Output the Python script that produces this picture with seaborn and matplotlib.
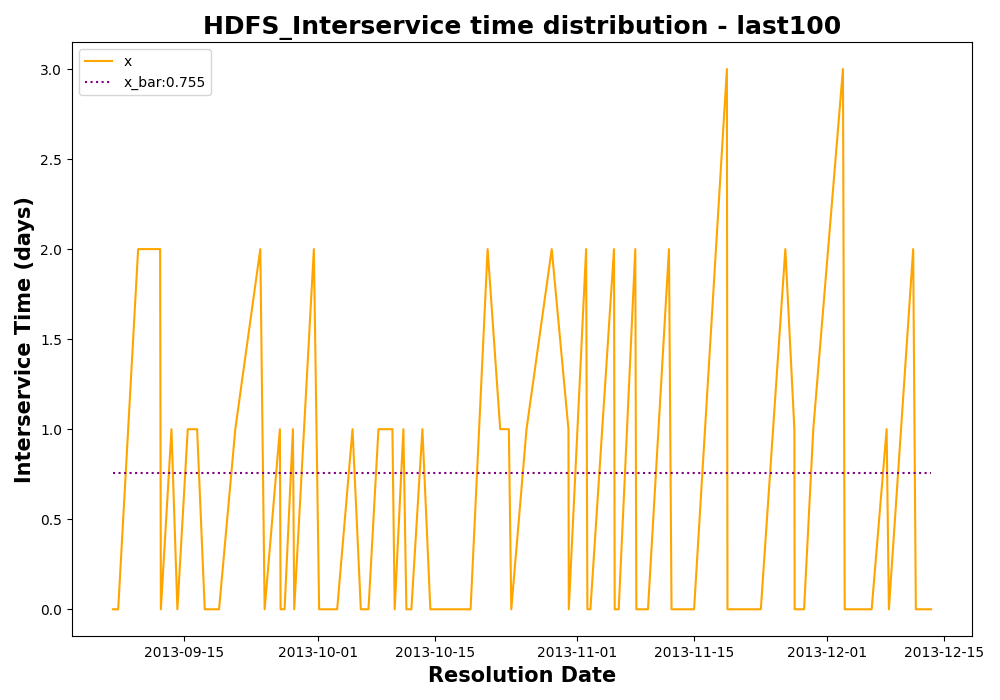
import matplotlib
matplotlib.use("Agg")
import matplotlib.pyplot as plt
import seaborn as sns
import pandas as pd

resolution_dates = [
    "2013-09-06 10:30", "2013-09-07 01:40", "2013-09-09 11:00", "2013-09-12 02:10",
    "2013-09-12 04:20", "2013-09-13 10:50", "2013-09-14 03:50", "2013-09-15 09:40",
    "2013-09-16 12:30", "2013-09-17 10:30", "2013-09-19 03:40", "2013-09-21 02:20",
    "2013-09-24 02:10", "2013-09-24 14:40", "2013-09-26 10:30", "2013-09-26 12:30",
    "2013-09-27 00:00", "2013-09-28 00:00", "2013-09-28 03:40", "2013-09-30 12:10",
    "2013-10-01 03:20", "2013-10-03 07:10", "2013-10-05 03:20", "2013-10-06 03:10",
    "2013-10-07 01:10", "2013-10-08 05:50", "2013-10-09 22:00", "2013-10-10 04:30",
    "2013-10-11 05:30", "2013-10-11 14:10", "2013-10-12 04:30", "2013-10-13 12:10",
    "2013-10-14 11:00", "2013-10-19 06:40", "2013-10-21 07:40", "2013-10-22 19:50",
    "2013-10-23 20:40", "2013-10-24 03:40", "2013-10-25 23:30", "2013-10-29 00:00",
    "2013-10-31 00:00", "2013-10-31 01:00", "2013-11-02 02:50", "2013-11-02 06:30",
    "2013-11-02 15:10", "2013-11-05 11:00", "2013-11-05 13:00", "2013-11-06 00:30",
    "2013-11-08 00:10", "2013-11-08 03:10", "2013-11-09 12:40", "2013-11-12 01:00",
    "2013-11-12 08:20", "2013-11-15 01:10", "2013-11-18 23:30", "2013-11-19 01:10",
    "2013-11-23 01:00", "2013-11-25 23:30", "2013-11-27 01:30", "2013-11-27 02:20",
    "2013-11-28 05:20", "2013-11-29 07:50", "2013-12-02 21:10", "2013-12-03 02:10",
    "2013-12-06 07:40", "2013-12-08 02:40", "2013-12-08 09:10", "2013-12-11 07:00",
    "2013-12-11 14:40", "2013-12-13 10:30",
]
interservice_days = [
    0, 0, 2, 2, 0, 1, 0, 1, 1, 0, 0, 1, 2, 0, 1, 0, 0, 1, 0, 2,
    0, 0, 1, 0, 0, 1, 1, 0, 1, 0, 0, 1, 0, 0, 2, 1, 1, 0, 1, 2,
    1, 0, 2, 0, 0, 2, 0, 0, 2, 0, 0, 2, 0, 0, 3, 0, 0, 2, 1, 0,
    0, 1, 3, 0, 0, 1, 0, 2, 0, 0,
]
x_bar = 0.755

title = "HDFS_Interservice time distribution - last100"
x_label = "Resolution Date"
y_label = "Interservice Time (days)"

df = pd.DataFrame({"date": pd.to_datetime(resolution_dates), "x": interservice_days})
bar_df = pd.DataFrame({"date": [df["date"].iloc[0], df["date"].iloc[-1]], "x_bar": [x_bar, x_bar]})

fig, ax = plt.subplots(figsize=(10, 7), dpi=100)
fig.subplots_adjust(left=0.072, right=0.972, top=0.94, bottom=0.091)

sns.lineplot(data=df, x="date", y="x", color="orange", label="x",
             estimator=None, sort=False, ax=ax, linewidth=1.5)
sns.lineplot(data=bar_df, x="date", y="x_bar", color="purple", linestyle=":",
             label=f"x_bar:{x_bar}", estimator=None, ax=ax, linewidth=1.5)

ax.set_title(title, fontsize=18, fontweight="bold")
ax.set_xlabel(x_label, fontsize=15, fontweight="bold")
ax.set_ylabel(y_label, fontsize=15, fontweight="bold")
ax.legend(loc="upper left")

fig.savefig("out.png", dpi=100)
